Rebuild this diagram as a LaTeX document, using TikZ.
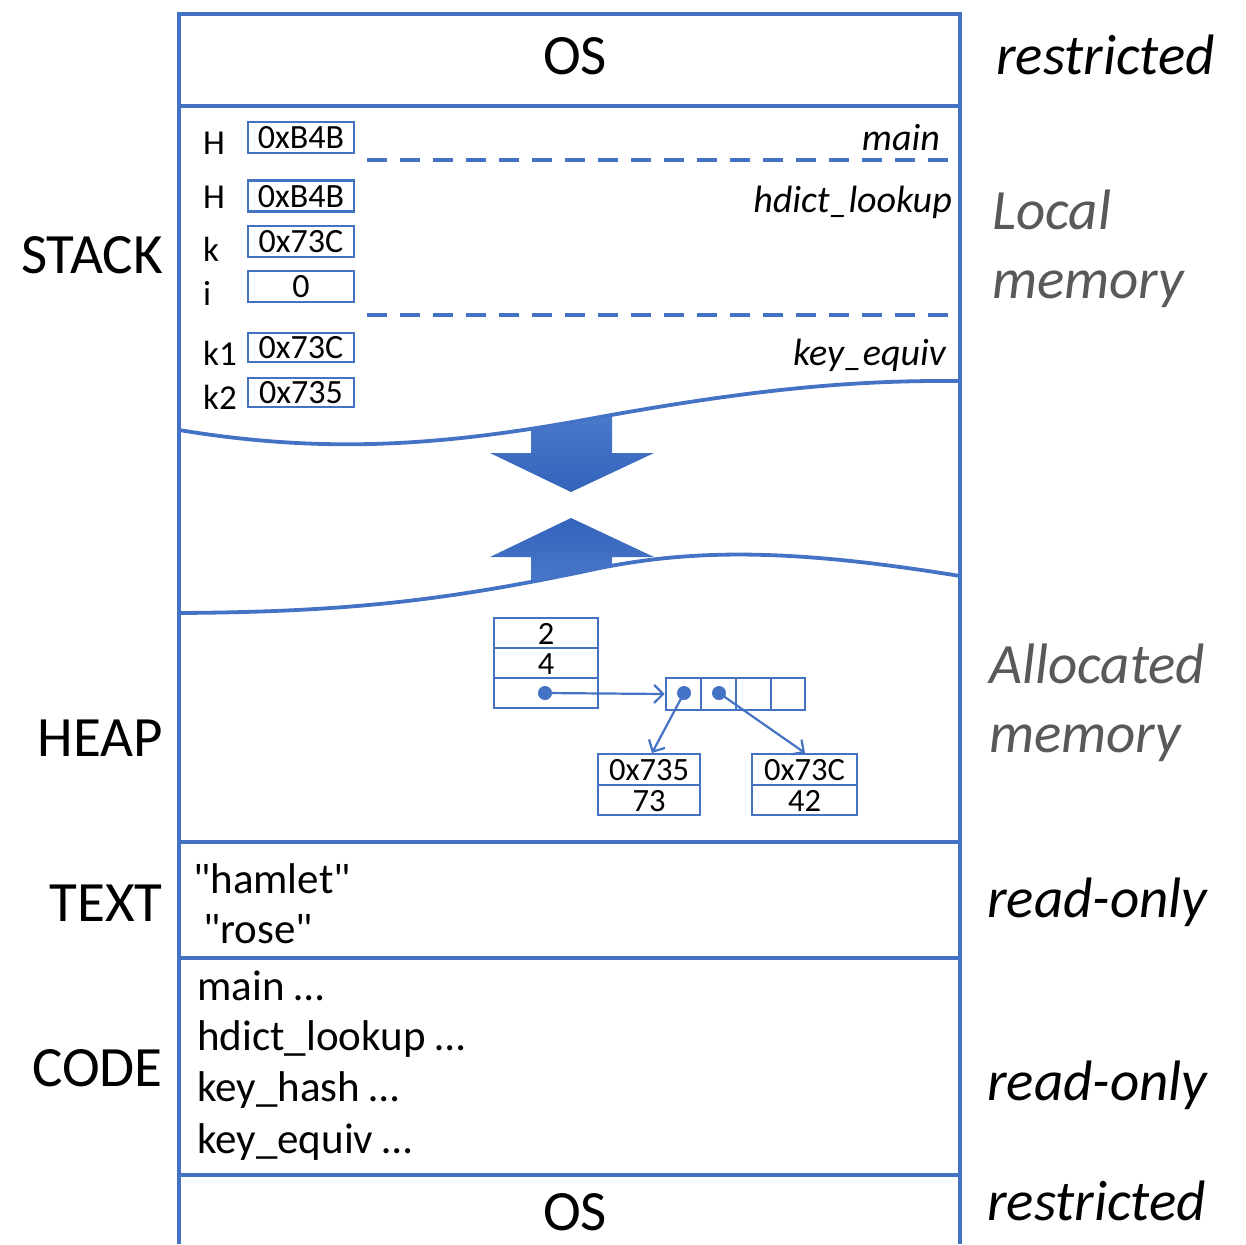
\documentclass[tikz,border=0pt]{standalone}
\usepackage{fontspec}
\setmainfont{Carlito}[Ligatures=TeXOff]
\usetikzlibrary{arrows.meta}
\definecolor{lineblue}{HTML}{4472C4}
\definecolor{graytxt}{HTML}{595959}
\definecolor{arrlight}{HTML}{4F7DCD}
\definecolor{arrdark}{HTML}{3463BC}
\tikzset{
  frameline/.style={draw=lineblue, line width=3.5pt},
  wave/.style={draw=lineblue, line width=3.8pt},
  sep/.style={draw=lineblue, line width=4pt, dash pattern=on 20pt off 13pt},
  big/.style={font=\fontsize{57}{63}\selectfont, inner sep=0pt},
  bigit/.style={font=\fontsize{57}{63}\selectfont\itshape, inner sep=0pt},
  bigitgray/.style={font=\fontsize{57}{63}\selectfont\itshape, inner sep=0pt, text=graytxt},
  varlbl/.style={font=\fontsize{35}{40}\selectfont, inner sep=0pt, anchor=base west},
  fnlbl/.style={font=\fontsize{38}{44}\selectfont\itshape, inner sep=0pt, anchor=base east},
  vbox/.style={draw=lineblue, line width=2.5pt, minimum width=106pt, minimum height=31pt,
    inner sep=0pt, text height=22pt, text depth=0pt, font=\fontsize{34}{38}\selectfont},
  hcell/.style={draw=lineblue, line width=2.6pt, inner sep=0pt, text height=22pt, text depth=0pt,
    font=\fontsize{32.5}{38}\selectfont},
  codetxt/.style={font=\fontsize{43}{48}\selectfont, inner sep=0pt, anchor=base west},
  dot/.style={circle, fill=lineblue, inner sep=0pt, minimum size=14pt},
  ptr/.style={draw=lineblue, line width=2.2pt, -{Straight Barb[length=9pt,width=18pt,line width=2.2pt]}},
}
\begin{document}
\begin{tikzpicture}[x=1pt,y=-1pt]
\useasboundingbox (0,0) rectangle (1246,1244);

% growth arrows (clipped by the waves)
\begin{scope}
  \clip (179,430) .. controls (330,455) and (450,445) .. (600,417)
        .. controls (750,390) and (850,380) .. (960,381) -- (960,700) -- (179,700) -- cycle;
  \shade[top color=arrlight, bottom color=arrdark]
    (531,400) -- (612,400) -- (612,453) -- (654,453) -- (571,492) -- (490,453) -- (531,453) -- cycle;
\end{scope}
\begin{scope}
  \clip (179,613) .. controls (350,612) and (450,600) .. (600,568)
        .. controls (700,548) and (800,550) .. (960,576) -- (960,300) -- (179,300) -- cycle;
  \shade[top color=arrdark, bottom color=arrlight]
    (571,518) -- (654,557) -- (612,557) -- (612,600) -- (531,600) -- (531,557) -- (490,557) -- cycle;
\end{scope}

% frame
\draw[frameline] (179,1244) -- (179,14) -- (960,14) -- (960,1244);
\draw[frameline] (179,106) -- (960,106);
\draw[frameline] (179,842) -- (960,842);
\draw[frameline] (179,958) -- (960,958);
\draw[frameline] (179,1175) -- (960,1175);

% waves
\draw[wave] (179,430) .. controls (330,455) and (450,445) .. (600,417)
        .. controls (750,390) and (850,380) .. (960,381);
\draw[wave] (179,613) .. controls (350,612) and (450,600) .. (600,568)
        .. controls (700,548) and (800,550) .. (960,576);

% dashed frame separators
\draw[sep] (367,160) -- (950,160);
\draw[sep] (367,315) -- (950,315);

% OS
\node[big, anchor=base] (ostop) at (575,75) {OS};
\node[big, anchor=base] (osbot) at (575,1230) {OS};

% left labels
\node[big, anchor=base east] (lstack) at (163,273) {STACK};
\node[big, anchor=base east] (lheap) at (163,756) {HEAP};
\node[big, anchor=base east] (ltext) at (163,921) {TEXT};
\node[big, anchor=base east] (lcode) at (163,1086) {CODE};

% right labels
\node[bigit, anchor=base west] (rtop) at (996,75) {restricted};
\node[bigitgray, anchor=base west] (rloc1) at (992,229) {Local};
\node[bigitgray, anchor=base west] (rloc2) at (992,298) {memory};
\node[bigitgray, anchor=base west] (ral1) at (989,683) {Allocated};
\node[bigitgray, anchor=base west] (ral2) at (989,752) {memory};
\node[bigit, anchor=base west] (rro1) at (987,917) {read-only};
\node[bigit, anchor=base west] (rro2) at (987,1100) {read-only};
\node[bigit, anchor=base west] (rbot) at (987,1220) {restricted};

% stack variables
\node[varlbl] (vH1) at (203,154) {H};
\node[varlbl] (vH2) at (203,208) {H};
\node[varlbl] (vk) at (203,261) {k};
\node[varlbl] (vi) at (203,305) {i};
\node[varlbl] (vk1) at (203,365) {k1};
\node[varlbl] (vk2) at (203,409) {k2};
\node[vbox] (bH1) at (301,137.5) {0xB4B};
\node[vbox] (bH2) at (301,196) {0xB4B};
\node[vbox] (bk) at (301,241.5) {0x73C};
\node[vbox] (bi) at (301,286.5) {0};
\node[vbox, minimum height=29pt] (bk1) at (301,347.5) {0x73C};
\node[vbox, minimum height=29pt] (bk2) at (301,392.5) {0x735};

% frame names
\node[fnlbl] (fmain) at (940,150) {main};
\node[fnlbl] (fhd) at (952,212) {hdict\_lookup};
\node[fnlbl] (fke) at (946,365) {key\_equiv};

% heap: struct
\node[hcell, minimum width=104pt, minimum height=30pt] (s1) at (546,633) {2};
\node[hcell, minimum width=104pt, minimum height=30pt] (s2) at (546,663) {4};
\node[hcell, minimum width=104pt, minimum height=30pt] (s3) at (546,693) {};
% array
\node[hcell, minimum width=35pt, minimum height=32pt] (c1) at (683.5,694) {};
\node[hcell, minimum width=35pt, minimum height=32pt] (c2) at (718.5,694) {};
\node[hcell, minimum width=35pt, minimum height=32pt] (c3) at (753.5,694) {};
\node[hcell, minimum width=34pt, minimum height=32pt] (c4) at (788,694) {};
% elements
\node[hcell, minimum width=102pt, minimum height=31pt] (v1) at (649,769.5) {0x735};
\node[hcell, minimum width=102pt, minimum height=30pt] (v2) at (649,800) {73};
\node[hcell, minimum width=105pt, minimum height=31pt] (w1) at (804.5,769.5) {0x73C};
\node[hcell, minimum width=105pt, minimum height=30pt] (w2) at (804.5,800) {42};

% pointers
\node[dot] (p0) at (545,693) {};
\node[dot] (p1) at (684,693) {};
\node[dot] (p2) at (719,693) {};
\coordinate (t1) at (652,753);
\coordinate (t2) at (805,753);
\draw[ptr] (p0.center) -- (c1.west);
\draw[ptr] (p1.center) -- (t1);
\draw[ptr] (p2.center) -- (t2);

% text segment
\node[codetxt] (th) at (193,893) {"hamlet"};
\node[codetxt] (tr) at (203,943) {"rose"};

% code segment
\node[codetxt] (cm) at (197,1000) {main …};
\node[codetxt] (ch) at (197,1050) {hdict\_lookup …};
\node[codetxt] (ckh) at (197,1101) {key\_hash …};
\node[codetxt] (cke) at (197,1153) {key\_equiv …};
\end{tikzpicture}
\end{document}
